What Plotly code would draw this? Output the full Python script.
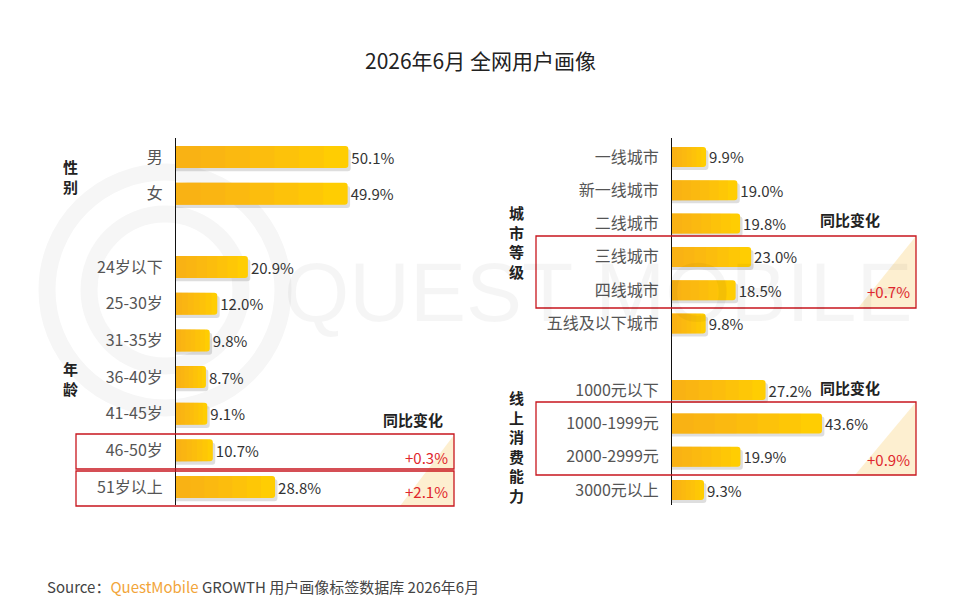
import plotly.graph_objects as go

# ---- data ----
gender_labels = ["男", "女"]
gender_values = [50.1, 49.9]
age_labels = ["24岁以下", "25-30岁", "31-35岁", "36-40岁", "41-45岁", "46-50岁", "51岁以上"]
age_values = [20.9, 12.0, 9.8, 8.7, 9.1, 10.7, 28.8]
city_labels = ["一线城市", "新一线城市", "二线城市", "三线城市", "四线城市", "五线及以下城市"]
city_values = [9.9, 19.0, 19.8, 23.0, 18.5, 9.8]
spend_labels = ["1000元以下", "1000-1999元", "2000-2999元", "3000元以上"]
spend_values = [27.2, 43.6, 19.9, 9.3]

age_changes = ["+0.3%", "+2.1%"]      # 46-50岁 / 51岁以上
city_change = "+0.7%"                 # 三线 + 四线城市
spend_change = "+0.9%"                # 1000-2999元

# the page body has an 8px margin, so the figure is drawn 8px in from the corner
OFF = 8
W, H = 960 - OFF, 612 - OFF
FONT = "Noto Sans CJK SC"


def px(x):
    return (x - OFF) / W


def py(y):
    return 1 - (y - OFF) / H


# row positions (one empty row between the two groups of a panel)
gender_pos = list(range(len(gender_labels)))
age_pos = [len(gender_labels) + 1 + i for i in range(len(age_labels))]
city_pos = list(range(len(city_labels)))
spend_pos = [len(city_labels) + 1 + i for i in range(len(spend_labels))]

fig = go.Figure()


def add_bars(labels, values, pos, xa, ya):
    # shadow
    fig.add_trace(go.Bar(
        y=[p + 0.09 for p in pos], x=[v + 0.7 for v in values], orientation="h",
        width=0.6, marker=dict(color="rgba(0,0,0,0.13)", cornerradius=3, line=dict(width=0)),
        xaxis=xa, yaxis=ya, hoverinfo="skip", showlegend=False,
    ))
    # base bar (yellow end) with value labels
    fig.add_trace(go.Bar(
        y=pos, x=values, orientation="h", width=0.6,
        marker=dict(color="#FFCD02", cornerradius=3, line=dict(width=0)),
        text=[f"{v:.1f}%" for v in values], textposition="outside", constraintext="none",
        textfont=dict(size=15, color="#333333", family=FONT),
        cliponaxis=False, xaxis=xa, yaxis=ya, hoverinfo="skip", showlegend=False,
    ))
    # orange layers -> left-to-right gradient
    n = 6
    for k in range(1, n + 1):
        fig.add_trace(go.Bar(
            y=pos, x=[v * (1 - k / (n + 1)) for v in values], orientation="h", width=0.6,
            marker=dict(color="rgba(246,166,34,0.14)", line=dict(width=0)),
            xaxis=xa, yaxis=ya, hoverinfo="skip", showlegend=False,
        ))


add_bars(gender_labels, gender_values, gender_pos, "x", "y")
add_bars(age_labels, age_values, age_pos, "x", "y")
add_bars(city_labels, city_values, city_pos, "x2", "y2")
add_bars(spend_labels, spend_values, spend_pos, "x2", "y2")

scale = 3.44  # px per percent
ydom = [py(505), py(138)]
yaxis_common = dict(
    showline=True, linecolor="#111111", linewidth=1, showgrid=False, zeroline=False,
    ticks="outside", ticklen=9, tickcolor="rgba(0,0,0,0)",
    tickfont=dict(size=16, color="#555555", family=FONT), domain=ydom, fixedrange=True,
)

left_pos = gender_pos + age_pos
right_pos = city_pos + spend_pos

fig.update_layout(
    width=W, height=H, margin=dict(l=0, r=0, t=0, b=0),
    paper_bgcolor="white", plot_bgcolor="rgba(0,0,0,0)",
    barmode="overlay", showlegend=False, font=dict(family=FONT),
    xaxis=dict(domain=[px(176), px(456)], range=[0, (456 - 176) / scale], visible=False),
    xaxis2=dict(domain=[px(672), px(916)], range=[0, (916 - 672) / scale], visible=False),
    yaxis=dict(anchor="x", range=[9.49, -0.52], tickvals=left_pos,
               ticktext=gender_labels + age_labels, **yaxis_common),
    yaxis2=dict(anchor="x2", range=[10.45, -0.57], tickvals=right_pos,
                ticktext=city_labels + spend_labels, **yaxis_common),
)

shapes = []
# watermark rings
for r in (118, 76):
    shapes.append(dict(type="circle", xref="paper", yref="paper", layer="below",
                       x0=px(165 - r), x1=px(165 + r), y0=py(290 + r), y1=py(290 - r),
                       line=dict(color="#F6F6F6", width=17)))

# cream triangles in highlighted boxes
for (xr, yt, yb, xl) in [(454, 435, 506, 400), (916, 236, 308, 858), (916, 402, 475, 855)]:
    shapes.append(dict(type="path", xref="paper", yref="paper", layer="below",
                       path=f"M {px(xr)},{py(yt)} L {px(xr)},{py(yb)} L {px(xl)},{py(yb)} Z",
                       fillcolor="rgba(252,226,170,0.55)", line=dict(width=0)))

# red highlight boxes
for (x0, x1, y0, y1) in [(76, 454, 434, 469), (76, 454, 471, 506),
                         (536, 916, 236, 308), (536, 916, 402, 475)]:
    shapes.append(dict(type="rect", xref="paper", yref="paper",
                       x0=px(x0), x1=px(x1), y0=py(y1), y1=py(y0),
                       line=dict(color="#C8161E", width=1.3)))
fig.update_layout(shapes=shapes)

ann = []
# watermark text
ann.append(dict(text="QUEST MOBILE", x=px(598), y=py(292), xref="paper", yref="paper",
                xanchor="center", yanchor="middle", showarrow=False,
                font=dict(size=84, color="rgba(0,0,0,0.04)", family="Liberation Sans")))
# title
ann.append(dict(text="2026年6月 全网用户画像", x=px(480), y=py(60), xref="paper", yref="paper",
                yanchor="middle", showarrow=False,
                font=dict(size=21, color="#222222", family=FONT)))
# group labels
for text, x, y in [("性别", 61, 176), ("年龄", 61, 378),
                   ("城市等级", 516, 242), ("线上消费能力", 516, 446)]:
    ann.append(dict(text="<b>" + "<br>".join(text) + "</b>", x=px(x), y=py(y),
                    xref="paper", yref="paper", yanchor="middle", showarrow=False,
                    font=dict(size=15, color="#222222", family=FONT), align="center"))
# 同比变化 headers
for x, y in [(413, 419), (882, 219), (882, 387)]:
    ann.append(dict(text="<b>同比变化</b>", x=px(x), y=py(y), xref="paper", yref="paper",
                    yanchor="middle", showarrow=False,
                    font=dict(size=15, color="#222222", family=FONT)))
# red change values
for text, x, y in [(age_changes[0], 450, 457), (age_changes[1], 450, 491),
                   (city_change, 912, 291), (spend_change, 912, 459)]:
    ann.append(dict(text=text, x=px(x), y=py(y), xref="paper", yref="paper",
                    xanchor="right", yanchor="middle", showarrow=False,
                    font=dict(size=15, color="#E0262C", family=FONT)))
# source
ann.append(dict(text="Source：<span style='color:#F2A53A'>QuestMobile</span> GROWTH 用户画像标签数据库 2026年6月",
                x=px(45), y=py(586), xref="paper", yref="paper", xanchor="left",
                yanchor="middle", showarrow=False,
                font=dict(size=15, color="#444444", family=FONT)))
fig.update_layout(annotations=ann)

fig.write_html("out.html")
